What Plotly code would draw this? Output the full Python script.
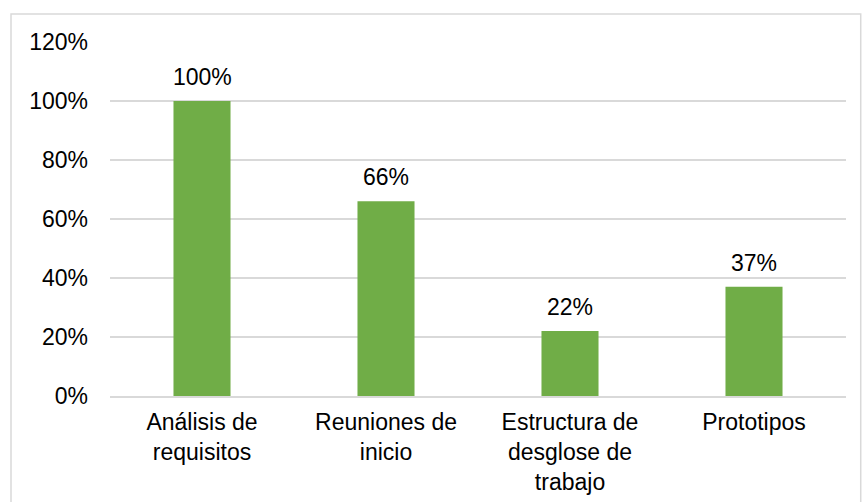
import plotly.graph_objects as go

categories = ["Análisis de<br>requisitos", "Reuniones de<br>inicio",
              "Estructura de<br>desglose de<br>trabajo", "Prototipos"]
values = [1.00, 0.66, 0.22, 0.37]
y_ticks = [0, 0.2, 0.4, 0.6, 0.8, 1.0, 1.2]
y_tick_labels = ["0%", "20%", "40%", "60%", "80%", "100%", "120%"]

FONT = "Liberation Sans, Arial, sans-serif"
GREEN = "#70AD47"
GRID = "#D9D9D9"
SIZE = 23

fig = go.Figure()
fig.add_trace(go.Bar(
    x=categories,
    y=values,
    marker=dict(color=GREEN, line=dict(width=0)),
    hoverinfo="skip",
))

# value labels sitting above each bar
annotations = [
    dict(x=c, y=v, xref="x", yref="y", text=f"{v:.0%}", showarrow=False,
         yanchor="bottom", yshift=9,
         font=dict(family=FONT, size=SIZE, color="#000000"))
    for c, v in zip(categories, values)
]

fig.update_layout(
    width=863,
    height=502,
    margin=dict(l=110, r=17, t=42, b=106),
    paper_bgcolor="white",
    plot_bgcolor="white",
    bargap=0.69,
    showlegend=False,
    font=dict(family=FONT, size=SIZE, color="#000000"),
    annotations=annotations,
    shapes=[
        dict(type="rect", xref="paper", yref="paper",
             x0=-0.1345, x1=1.02, y0=-0.33, y1=1.079,
             line=dict(color=GRID, width=1.5), fillcolor="rgba(0,0,0,0)",
             layer="below"),
    ],
)

fig.update_xaxes(
    showgrid=False,
    showline=True,
    linecolor=GRID,
    linewidth=1.5,
    ticks="",
    ticklabelstandoff=5,
    automargin=False,
    tickfont=dict(family=FONT, size=SIZE, color="#000000"),
)
fig.update_yaxes(
    range=[0, 1.2],
    tickvals=y_ticks,
    ticktext=y_tick_labels,
    showgrid=True,
    gridcolor=GRID,
    gridwidth=1.5,
    zeroline=False,
    showline=False,
    ticks="",
    ticklabelstandoff=21,
    automargin=False,
    tickfont=dict(family=FONT, size=SIZE, color="#000000"),
)

fig.write_html("out.html")
